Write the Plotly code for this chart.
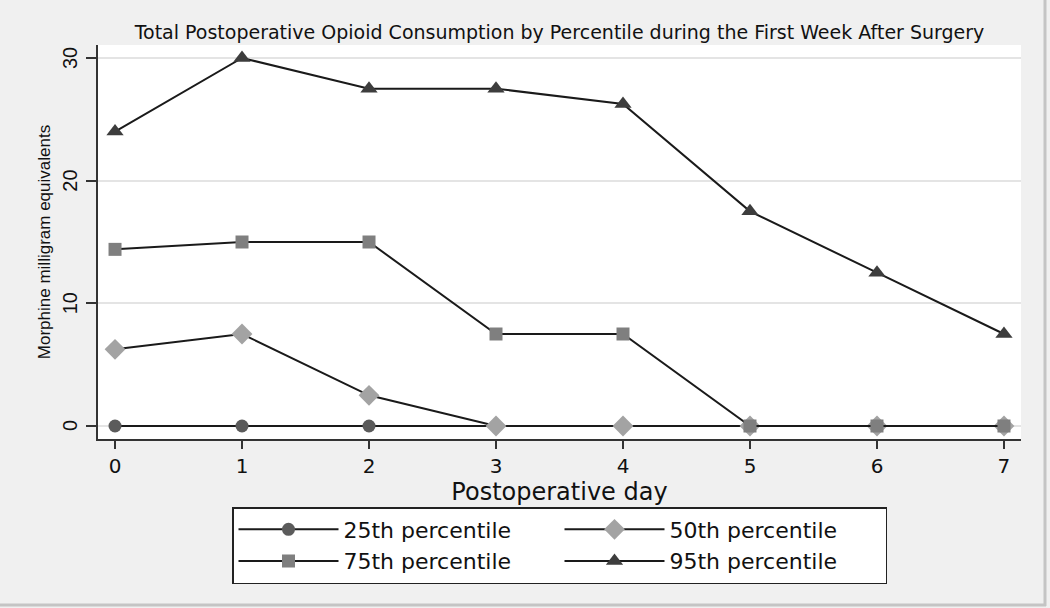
import plotly.graph_objects as go

days = [0, 1, 2, 3, 4, 5, 6, 7]
y_ticks = [0, 10, 20, 30]
p25 = [0, 0, 0, 0, 0, 0, 0, 0]
p50 = [6.25, 7.5, 2.5, 0, 0, 0, 0, 0]
p75 = [14.4, 15, 15, 7.5, 7.5, 0, 0, 0]
p95 = [24, 30, 27.5, 27.5, 26.25, 17.5, 12.5, 7.5]

series = [
    ("25th percentile", p25, "circle", "#5b5b5b", 13),
    ("50th percentile", p50, "diamond", "#a3a3a3", 16),
    ("75th percentile", p75, "square", "#7f7f7f", 13),
    ("95th percentile", p95, "triangle-up", "#3d3d3d", 15),
]

fig = go.Figure()
for name, vals, sym, col, sz in series:
    fig.add_trace(go.Scatter(
        x=days, y=vals, name=name, mode="lines+markers",
        line=dict(color="#1a1a1a", width=2),
        marker=dict(symbol=sym, color=col, size=sz, line=dict(width=0)),
    ))

hfont = "DejaVu Sans"
vfont = "Liberation Sans"

fig.update_layout(
    template="none",
    width=1050, height=608,
    paper_bgcolor="#f0f0f0", plot_bgcolor="#ffffff",
    margin=dict(l=98, r=29, t=45, b=169, autoexpand=False),
    title=dict(text="Total Postoperative Opioid Consumption by Percentile during the First Week After Surgery",
               x=0.5, xref="paper", xanchor="center", y=1 - 32 / 608, yref="container", yanchor="middle",
               font=dict(family=hfont, size=19, color="#111111")),
    xaxis=dict(range=[-0.134, 7.134], tickvals=days, ticktext=[str(d) for d in days],
               automargin=False,
               showgrid=False, zeroline=False, showline=True, linecolor="#333333", linewidth=1.5,
               ticks="outside", ticklen=8, tickwidth=1.5, tickcolor="#333333",
               tickfont=dict(family=hfont, size=20, color="#111111"),
               title=dict(text="Postoperative day", standoff=0,
                          font=dict(family=hfont, size=24, color="#111111"))),
    yaxis=dict(range=[-1.06, 31.06], tickvals=y_ticks, showticklabels=False,
               automargin=False,
               showgrid=True, gridcolor="#e4e4e4", gridwidth=1.5, zeroline=False,
               showline=True, linecolor="#333333", linewidth=1.5,
               ticks="outside", ticklen=10, tickwidth=1.5, tickcolor="#333333",
               title=dict(text="Morphine milligram equivalents", standoff=31,
                          font=dict(family=vfont, size=17, color="#111111"))),
    legend=dict(orientation="h", x=0.5, xanchor="center", y=(439 - 507) / 394, yanchor="top",
                bgcolor="#ffffff", bordercolor="#222222", borderwidth=1.5,
                entrywidth=211, itemwidth=100, tracegroupgap=0,
                font=dict(family=hfont, size=22, color="#111111")),
    showlegend=True,
)

# rotated y tick labels (Stata style), positioned through the y data scale
for t in y_ticks:
    fig.add_annotation(x=(70 - 98) / 923, xref="paper", y=t, yref="y", text=str(t),
                       textangle=-90, showarrow=False, xanchor="center", yanchor="middle",
                       font=dict(family=vfont, size=20, color="#111111"))

# outer frame edges (right and bottom) of the graph region
fig.add_shape(type="line", xref="paper", yref="paper", x0=(1045 - 98) / 923, x1=(1045 - 98) / 923,
              y0=(439 - 606) / 394, y1=(439 - 0) / 394 + 0.2, line=dict(color="#c4c4c4", width=3))
fig.add_shape(type="line", xref="paper", yref="paper", x0=-0.2, x1=(1046 - 98) / 923,
              y0=(439 - 605) / 394, y1=(439 - 605) / 394, line=dict(color="#c4c4c4", width=3))

fig.write_html("out.html", config={"displayModeBar": False},
               post_script="document.body.style.margin='0px';document.body.style.overflow='hidden';")
